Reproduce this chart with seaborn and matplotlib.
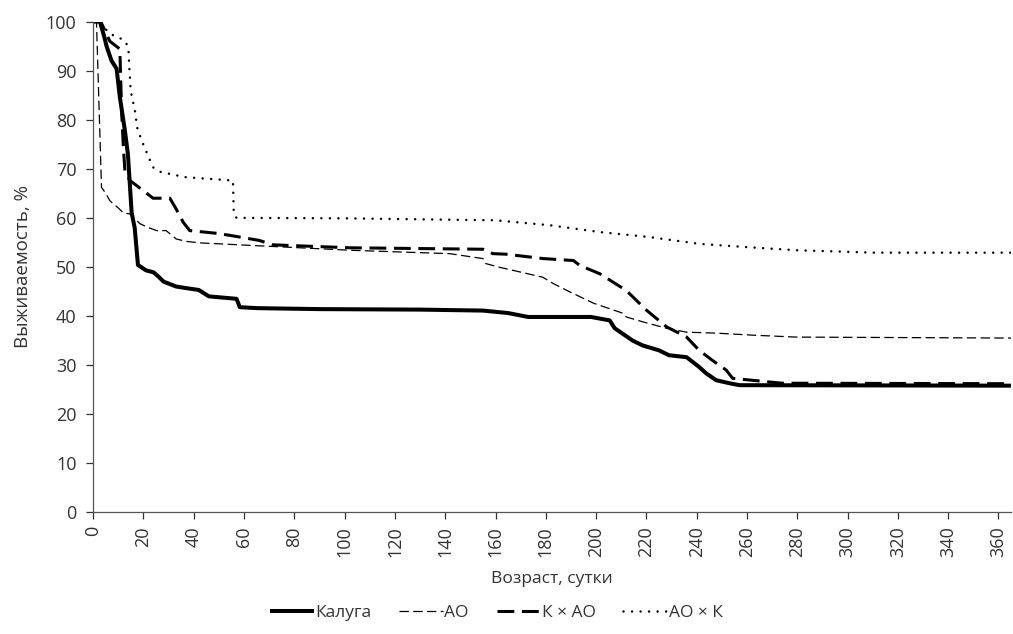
import numpy as np
import pandas as pd
import matplotlib
matplotlib.use("Agg")
import matplotlib.pyplot as plt
import seaborn as sns

# ---- data ----
kaluga_days = [0, 2.7, 4.6, 5.3, 7.3, 9.3, 10.6, 12.6, 13.8, 15.3, 16.5, 17.8, 21, 24, 26, 28, 33, 38, 42, 46,
               57, 58.3, 65, 90, 130, 155, 161, 165, 173, 198, 205.4, 207.4, 214.5, 218.5, 225, 229, 236, 241,
               243.8, 247.8, 253, 257, 365]
kaluga_vals = [100, 100, 96.5, 95, 92, 90.4, 84.6, 77.8, 73, 61, 58, 50.4, 49.3, 48.9, 48, 47, 46, 45.6, 45.3, 44,
               43.5, 41.8, 41.6, 41.4, 41.3, 41.1, 40.8, 40.6, 39.8, 39.8, 39.1, 37.5, 35, 34, 33, 32, 31.6, 29.6,
               28.3, 26.9, 26.3, 25.9, 25.8]

ao_days = [0, 1.3, 3.3, 5, 6.6, 10, 12, 14.6, 18.6, 22, 25.2, 29, 33, 37, 42.4, 62, 102, 141.8, 155, 156,
           161, 178.8, 183, 189.6, 199, 211, 212, 218.6, 228, 236, 248, 262, 279.5, 365]
ao_vals = [100, 100, 66.2, 65, 63.5, 62, 61, 60.8, 58.8, 58, 57.4, 57.4, 55.7, 55.2, 54.9, 54.4, 53.4, 52.7, 51.7, 50.7,
           50, 47.9, 46.6, 44.9, 42.6, 40.5, 39.8, 38.8, 37.5, 36.7, 36.5, 36.1, 35.7, 35.5]

kxao_days = [0, 3, 6.6, 10.6, 11.3, 12, 12.6, 14.6, 19.8, 23.8, 30.5, 33, 35.8, 38.4, 50, 57, 66, 71.5, 102, 155,
             159, 164, 179, 191, 193.5, 201.5, 212, 220, 228, 236, 241, 246.4, 251.7, 254.3, 262, 274, 365]
kxao_vals = [100, 100, 96, 94.4, 81.8, 74.4, 69.6, 67.6, 65.6, 64, 64, 61.8, 59.1, 57.4, 56.8, 56.2, 55.4, 54.5, 53.9, 53.6,
             52.7, 52.6, 51.7, 51.3, 50.3, 48.6, 45.2, 41.2, 37.8, 35.7, 33, 30.9, 29, 27.3, 26.9, 26.3, 26.2]

aoxk_days = [0, 2.5, 4, 6.6, 9.9, 12.6, 14, 14.3, 14.9, 16.6, 17.6, 19.9, 21.2, 23.8, 26.5, 36.4, 55.6, 55.9, 57, 100,
             160, 181.5, 201.5, 221, 241, 261, 279.6, 311, 365]
aoxk_vals = [100, 100, 99, 97.5, 96.8, 96.1, 94.7, 91.3, 85.9, 81.8, 78.1, 75, 73.4, 70.3, 69.4, 68.3, 67.6, 60.8, 60, 59.9,
             59.5, 58.5, 57.1, 56.1, 54.7, 54, 53.4, 52.9, 52.9]

series_names = ["Калуга", "АО", "К × АО", "АО × К"]
x_ticks = list(range(0, 361, 20))
y_ticks = list(range(0, 101, 10))

# ---- styling ----
sns.set_theme(style="white")
plt.rcParams["font.family"] = ["Open Sans", "DejaVu Sans"]
text_color = "#333333"

fig = plt.figure(figsize=(10.13, 6.34), dpi=100)
ax = fig.add_axes([0.092, 0.192, 0.906, 0.774])

styles = [
    dict(linewidth=2.9, linestyle="-", solid_capstyle="butt"),
    dict(linewidth=0.9, linestyle=(0, (7.5, 3.5))),
    dict(linewidth=2.2, linestyle=(0, (5.5, 2.5))),
    dict(linewidth=1.8, linestyle=(0, (0.01, 3.4)), dash_capstyle="round"),
]
data = [(kaluga_days, kaluga_vals), (ao_days, ao_vals), (kxao_days, kxao_vals), (aoxk_days, aoxk_vals)]

for name, (d, v), st in zip(series_names, data, styles):
    df = pd.DataFrame({"day": d, "val": v})
    sns.lineplot(data=df, x="day", y="val", ax=ax, color="black", estimator=None,
                 sort=False, label=name, **st)

ax.set_xlim(0, 365)
ax.set_ylim(0, 100)
ax.set_xticks(x_ticks)
ax.set_yticks(y_ticks)
ax.set_xticklabels([str(t) for t in x_ticks], rotation=90)
ax.tick_params(axis="both", labelsize=13, colors=text_color, length=5, width=0.9,
               direction="out", bottom=True, left=True)
ax.tick_params(axis="y", pad=7)
ax.tick_params(axis="x", pad=5)
for s in ["top", "right"]:
    ax.spines[s].set_visible(False)
for s in ["left", "bottom"]:
    ax.spines[s].set_color("#555555")
    ax.spines[s].set_linewidth(0.9)

ax.set_xlabel("Возраст, сутки", fontsize=12.5, color=text_color, labelpad=10)
ax.set_ylabel("Выживаемость, %", fontsize=13.5, color=text_color, labelpad=10)
ax.grid(False)

handles, labels = ax.get_legend_handles_labels()
leg = ax.legend(handles, labels, loc="center", bbox_to_anchor=(0.49, 0.033),
                bbox_transform=fig.transFigure, ncol=4, frameon=False, fontsize=12.5,
                handlelength=2.5, handletextpad=0.1, columnspacing=1.6)
for t in leg.get_texts():
    t.set_color(text_color)

fig.savefig("out.png", dpi=100)
